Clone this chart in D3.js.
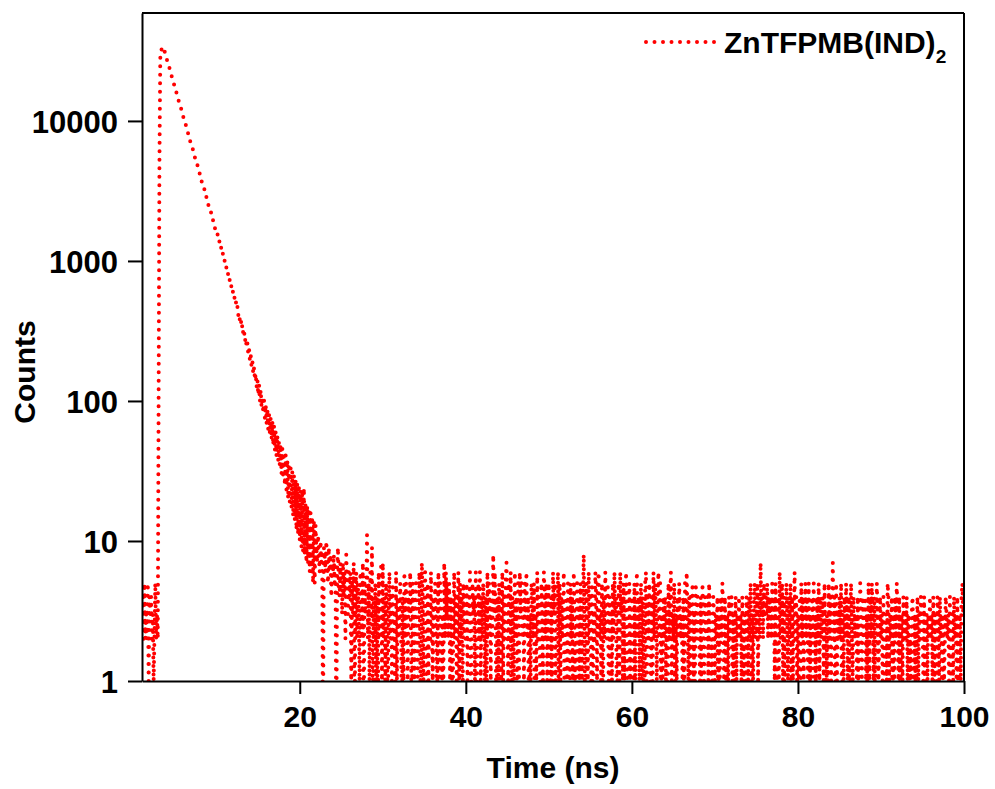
<!DOCTYPE html>
<html>
<head>
<meta charset="utf-8">
<script src="https://cdn.jsdelivr.net/npm/d3@7"></script>
<style>
  body { margin: 0; background: #fff; }
  text { font-family: Arial, "Liberation Sans", sans-serif; font-weight: bold; fill: #000; }
  .axis path, .axis line { stroke: #000; stroke-width: 2; }
</style>
</head>
<body>
<div id="chart"></div>
<script>
// TCSPC decay of ZnTFPMB(IND)2, one value per 0.1 ns channel
var seriesName = 'ZnTFPMB(IND)';
var channelStart = 1.0, channelWidth = 0.1;   // ns

// 1.0 - 2.9 ns, background before the pulse (one hex digit per channel)
var preRise = '34252325143423125232';

// 3.0 - 3.8 ns, rise and peak
var peak = [100, 5000, 28000, 31500, 33200, 33900, 33100, 31800, 30200];

// 3.9 - 21.9 ns, decay
var decay = [
  28910, 27380, 26350, 24870, 23990, 22610, 21790, 20540, 19810, 18650,
  17990, 16950, 16410, 15420, 14900, 14010, 13570, 12730, 12330, 11580,
  11220, 10520, 10210, 9560, 9290, 8690, 8440, 7880, 7690, 7160,
  6990, 6510, 6370, 5910, 5800, 5380, 5270, 4890, 4800, 4440,
  4370, 4030, 3980, 3660, 3610, 3330, 3290, 3020, 2990, 2750,
  2720, 2500, 2480, 2260, 2250, 2060, 2050, 1870, 1860, 1700,
  1700, 1540, 1550, 1400, 1410, 1270, 1290, 1150, 1170, 1050,
  1060, 950, 960, 860, 870, 770, 785, 695, 705, 625,
  640, 565, 575, 505, 520, 455, 470, 410, 425, 368,
  385, 330, 349, 298, 315, 268, 284, 240, 258, 215,
  233, 193, 211, 174, 190, 156, 173, 141, 157, 126,
  142, 110, 131, 99, 120, 90, 107, 82, 101, 75,
  94, 69, 88, 63, 81, 58, 76, 53, 71, 48,
  66, 44, 61, 40, 57, 37, 52, 33, 49, 30,
  46, 28, 43, 25, 41, 23, 38, 20, 36, 19,
  33, 17, 31, 15, 29, 14, 27, 12, 26, 11,
  24, 10, 23, 9, 22, 8, 24, 8, 19, 7,
  18, 7, 17, 6, 16, 6, 15, 5, 14, 5,
  13
];

// 22.0 - 100.0 ns, background counts (one hex digit per channel)
var tail22 = '97b86a7809' + '86a7596847' + '6857069547' + '5374628536' +
             '4615370462' + '5316427053' + '4b25163904' + '2514063271';
var tail30 = '7241530362' + '4152306142' + '3520416253' + '1436205314' + '5213620741' +
             '3620514263' + '1425302615' + '4031726352' + '5142036241' + '3615240532';
var tail40 = '2514360253' + '4160352614' + '2531406253' + '1428362041' + '5302614257' +
             '3152604316' + '2405163524' + '1536240315' + '4250316243' + '0531642513';
var tail50 = '5214063512' + '3605142360' + '2415305241' + '6302514153' + '1482053162' +
             '4150326415' + '6231504263' + '2514031526' + '3402516341' + '5136204512';
var tail60 = '4205136241' + '3514205614' + '2530416253' + '1462503142' + '4130524613' +
             '2503142532' + '3140526314' + '1425031524' + '3214053142' + '2415302143';
var tail70 = '1324031425' + '3142031423' + '4130241324' + '2314023143' + '1425031452' +
             '3514273425' + '3435243425' + '2415304162' + '3514025314' + '2504136241';
var tail80 = '3140524135' + '2415031425' + '1304251423' + '4152031524' + '1372405132' +
             '4250314253' + '1403521432' + '3140253142' + '2413051425' + '3140253124';
var tail90 = '2314023154' + '1324031425' + '3140231423' + '2413021342' + '1302413243' +
             '3140231324' + '2314032143' + '1423031243' + '2314023142' + '31402314534';

var xTicks = [20, 40, 60, 80, 100];
var yTicks = [1, 10, 100, 1000, 10000];

function digits(s) { return s.split('').map(function(ch) { return parseInt(ch, 16); }); }

var counts = digits(preRise).concat(peak, decay,
  digits(tail22 + tail30 + tail40 + tail50 + tail60 + tail70 + tail80 + tail90));
var data = counts.map(function(c, i) {
  return { t: channelStart + i * channelWidth, c: c };
});

var W = 995, H = 789;
var margin = { left: 142, top: 13, right: 31, bottom: 108 };
var w = W - margin.left - margin.right, h = H - margin.top - margin.bottom;

var svg = d3.select('#chart').append('svg')
  .attr('width', W).attr('height', H);

var g = svg.append('g')
  .attr('transform', 'translate(' + margin.left + ',' + margin.top + ')');

var x = d3.scaleLinear().domain([1, 100]).range([0, w]);
var y = d3.scaleLog().domain([1, 59000]).range([h, 0]);

g.append('clipPath').attr('id', 'clip')
  .append('rect').attr('width', w).attr('height', h);

var line = d3.line()
  .x(function(d) { return x(d.t); })
  .y(function(d) { return y(Math.max(d.c, 0.3)); });

g.append('path')
  .datum(data)
  .attr('clip-path', 'url(#clip)')
  .attr('d', line)
  .attr('fill', 'none')
  .attr('stroke', '#f00')
  .attr('stroke-width', 4)
  .attr('stroke-linecap', 'round')
  .attr('stroke-dasharray', '0 8.5');

// axes
var xAxis = g.append('g').attr('class', 'axis')
  .attr('transform', 'translate(0,' + h + ')')
  .call(d3.axisBottom(x).tickValues(xTicks).tickSize(13).tickSizeOuter(0).tickPadding(12));
xAxis.selectAll('text').style('font-size', '30px');

var yAxis = g.append('g').attr('class', 'axis')
  .call(d3.axisLeft(y).tickValues(yTicks).tickFormat(d3.format('d')).tickSize(14).tickSizeOuter(0).tickPadding(10));
yAxis.selectAll('text').style('font-size', '31px').attr('dy', '0.36em');

// top and right frame
g.append('line').attr('x1', 0).attr('x2', w).attr('y1', 0).attr('y2', 0)
  .attr('stroke', '#000').attr('stroke-width', 2);
g.append('line').attr('x1', w).attr('x2', w).attr('y1', 0).attr('y2', h)
  .attr('stroke', '#000').attr('stroke-width', 2);

// axis titles
svg.append('text')
  .attr('x', margin.left + w / 2).attr('y', 778)
  .attr('text-anchor', 'middle')
  .style('font-size', '30px')
  .text('Time (ns)');

svg.append('text')
  .attr('transform', 'translate(35,372) rotate(-90)')
  .attr('text-anchor', 'middle')
  .style('font-size', '30px')
  .text('Counts');

// legend
var legend = svg.append('g');
legend.append('line')
  .attr('x1', 646).attr('x2', 717).attr('y1', 42).attr('y2', 42)
  .attr('stroke', '#f00')
  .attr('stroke-width', 4)
  .attr('stroke-linecap', 'round')
  .attr('stroke-dasharray', '0 8.5');
var lt = legend.append('text')
  .attr('x', 724).attr('y', 53)
  .style('font-size', '30px')
  .text(seriesName);
lt.append('tspan')
  .attr('dy', 10)
  .style('font-size', '19px')
  .text('2');
</script>
</body>
</html>
